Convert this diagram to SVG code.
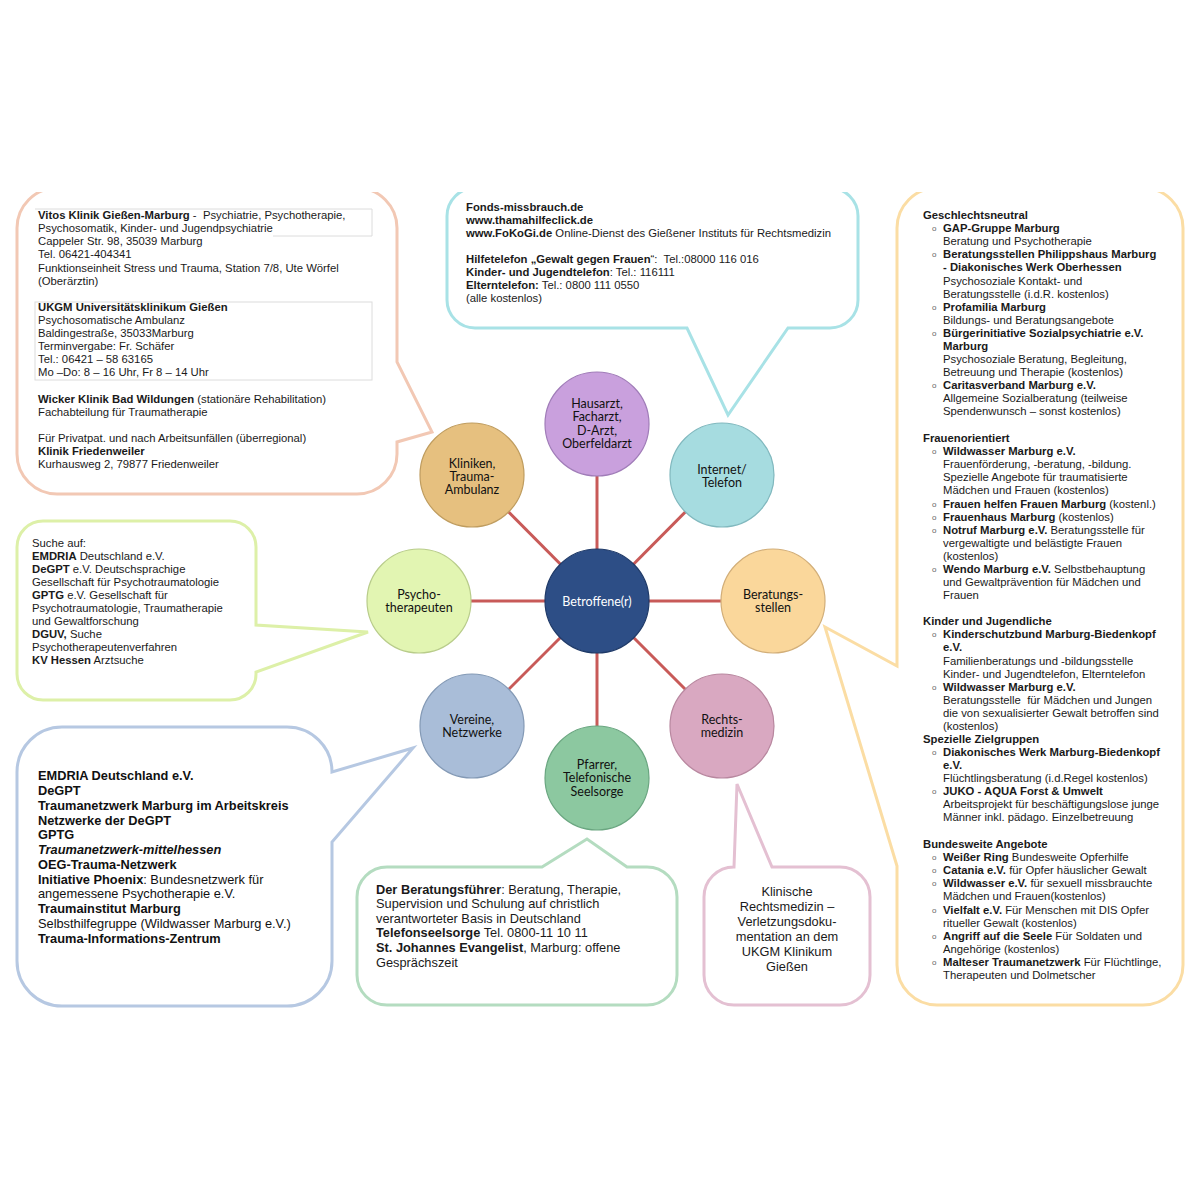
<svg xmlns="http://www.w3.org/2000/svg" width="1200" height="1200" viewBox="0 0 1200 1200">
<style>
.t{font-family:"Liberation Sans",Arial,sans-serif;font-size:11.3px;fill:#1a1a1a}
.m{font-family:"Liberation Sans",Arial,sans-serif;font-size:12.8px;fill:#1a1a1a}
.l{font-family:"Liberation Sans",Arial,sans-serif;font-size:12.8px;fill:#111}
.b{font-weight:bold}
.i{font-style:italic}
.bu{font-family:"Liberation Sans",Arial,sans-serif;font-size:8px;fill:#666}
.c{font-family:Lato,"Open Sans",sans-serif;font-size:12.5px;fill:#111;text-anchor:middle}
.call{fill:#fff;stroke-width:3;stroke-linejoin:miter}
.con{stroke:#C85A58;stroke-width:3}
.node{stroke-width:1.2}
.tab{fill:none;stroke:#dcdcdc;stroke-width:1}
</style>
<defs>
<clipPath id="clip"><rect x="0" y="192" width="1200" height="1008"/></clipPath>
</defs>
<rect width="1200" height="1200" fill="#fff"/>

<g id="callouts" clip-path="url(#clip)">
<path id="callout-kliniken" class="call" stroke="#F2C8B4" d="M57,188 H357 A40,40 0 0 1 397,228 V362 L432,432 L397,442 V454 A40,40 0 0 1 357,494 H57 A40,40 0 0 1 17,454 V228 A40,40 0 0 1 57,188 Z"/>
<path id="callout-internet" class="call" stroke="#A8E2E6" d="M475,188 H830 A28,28 0 0 1 858,216 V300 A28,28 0 0 1 830,328 H788 L728,415 L687,328 H475 A28,28 0 0 1 447,300 V216 A28,28 0 0 1 475,188 Z"/>
<path id="callout-beratung" class="call" stroke="#FBDDA4" d="M937,188 H1143 A40,40 0 0 1 1183,228 V965 A40,40 0 0 1 1143,1005 H937 A40,40 0 0 1 897,965 V866 L825,627 L897,666 V228 A40,40 0 0 1 937,188 Z"/>
<path id="callout-psycho" class="call" stroke="#DDF0A8" d="M43,521 H230 A26,26 0 0 1 256,547 V625 L368,632 L256,672 V674 A26,26 0 0 1 230,700 H43 A26,26 0 0 1 17,674 V547 A26,26 0 0 1 43,521 Z"/>
<path id="callout-vereine" class="call" stroke="#B6C8E2" d="M62,727 H287 A45,45 0 0 1 332,772 L413,748 L332,842 V961 A45,45 0 0 1 287,1006 H62 A45,45 0 0 1 17,961 V772 A45,45 0 0 1 62,727 Z"/>
<path id="callout-pfarrer" class="call" stroke="#B4DCC0" d="M387,867 H542 L587,839 L627,867 H647 A30,30 0 0 1 677,897 V975 A30,30 0 0 1 647,1005 H387 A30,30 0 0 1 357,975 V897 A30,30 0 0 1 387,867 Z"/>
<path id="callout-rechts" class="call" stroke="#E4C0D2" d="M734,867 L737,784 L772,867 H840 A30,30 0 0 1 870,897 V975 A30,30 0 0 1 840,1005 H734 A30,30 0 0 1 704,975 V897 A30,30 0 0 1 734,867 Z"/>
</g>

<g id="text-kliniken">
<path class="tab" d="M35,209 H372 V236 H273"/>
<rect class="tab" x="35" y="302" width="337" height="78"/>
<text class="t" x="38" y="219" xml:space="preserve"><tspan class="b">Vitos Klinik Gießen-Marburg</tspan> -  Psychiatrie, Psychotherapie,</text>
<text class="t" x="38" y="232">Psychosomatik, Kinder- und Jugendpsychiatrie</text>
<text class="t" x="38" y="245">Cappeler Str. 98, 35039 Marburg</text>
<text class="t" x="38" y="258">Tel. 06421-404341</text>
<text class="t" x="38" y="272">Funktionseinheit Stress und Trauma, Station 7/8, Ute Wörfel</text>
<text class="t" x="38" y="285">(Oberärztin)</text>
<text class="t b" x="38" y="311">UKGM Universitätsklinikum Gießen</text>
<text class="t" x="38" y="324">Psychosomatische Ambulanz</text>
<text class="t" x="38" y="337">Baldingestraße, 35033Marburg</text>
<text class="t" x="38" y="350">Terminvergabe: Fr. Schäfer</text>
<text class="t" x="38" y="363">Tel.: 06421 – 58 63165</text>
<text class="t" x="38" y="376">Mo –Do: 8 – 16 Uhr, Fr 8 – 14 Uhr</text>
<text class="t" x="38" y="403"><tspan class="b">Wicker Klinik Bad Wildungen</tspan> (stationäre Rehabilitation)</text>
<text class="t" x="38" y="416">Fachabteilung für Traumatherapie</text>
<text class="t" x="38" y="442">Für Privatpat. und nach Arbeitsunfällen (überregional)</text>
<text class="t b" x="38" y="455">Klinik Friedenweiler</text>
<text class="t" x="38" y="468">Kurhausweg 2, 79877 Friedenweiler</text>
</g>

<g id="text-internet">
<text class="t b" x="466" y="211">Fonds-missbrauch.de</text>
<text class="t b" x="466" y="224">www.thamahilfeclick.de</text>
<text class="t" x="466" y="237"><tspan class="b">www.FoKoGi.de</tspan> Online-Dienst des Gießener Instituts für Rechtsmedizin</text>
<text class="t" x="466" y="263" xml:space="preserve"><tspan class="b">Hilfetelefon „Gewalt gegen Frauen</tspan>“:  Tel.:08000 116 016</text>
<text class="t" x="466" y="276"><tspan class="b">Kinder- und Jugendtelefon</tspan>: Tel.: 116111</text>
<text class="t" x="466" y="289"><tspan class="b">Elterntelefon:</tspan> Tel.: 0800 111 0550</text>
<text class="t" x="466" y="302">(alle kostenlos)</text>
</g>

<g id="text-beratung">
<text class="t b" x="923" y="219">Geschlechtsneutral</text>
<text class="bu" x="932" y="231">o</text><text class="t b" x="943" y="232">GAP-Gruppe Marburg</text>
<text class="t" x="943" y="245">Beratung und Psychotherapie</text>
<text class="bu" x="932" y="257">o</text><text class="t b" x="943" y="258">Beratungsstellen Philippshaus Marburg</text>
<text class="t b" x="943" y="271">- Diakonisches Werk Oberhessen</text>
<text class="t" x="943" y="285">Psychosoziale Kontakt- und</text>
<text class="t" x="943" y="298">Beratungsstelle (i.d.R. kostenlos)</text>
<text class="bu" x="932" y="310">o</text><text class="t b" x="943" y="311">Profamilia Marburg</text>
<text class="t" x="943" y="324">Bildungs- und Beratungsangebote</text>
<text class="bu" x="932" y="336">o</text><text class="t b" x="943" y="337">Bürgerinitiative Sozialpsychiatrie e.V.</text>
<text class="t b" x="943" y="350">Marburg</text>
<text class="t" x="943" y="363">Psychosoziale Beratung, Begleitung,</text>
<text class="t" x="943" y="376">Betreuung und Therapie (kostenlos)</text>
<text class="bu" x="932" y="388">o</text><text class="t b" x="943" y="389">Caritasverband Marburg e.V.</text>
<text class="t" x="943" y="402">Allgemeine Sozialberatung (teilweise</text>
<text class="t" x="943" y="415">Spendenwunsch – sonst kostenlos)</text>
<text class="t b" x="923" y="442">Frauenorientiert</text>
<text class="bu" x="932" y="454">o</text><text class="t b" x="943" y="455">Wildwasser Marburg e.V.</text>
<text class="t" x="943" y="468">Frauenförderung, -beratung, -bildung.</text>
<text class="t" x="943" y="481">Spezielle Angebote für traumatisierte</text>
<text class="t" x="943" y="494">Mädchen und Frauen (kostenlos)</text>
<text class="bu" x="932" y="507">o</text><text class="t" x="943" y="508"><tspan class="b">Frauen helfen Frauen Marburg</tspan> (kostenl.)</text>
<text class="bu" x="932" y="520">o</text><text class="t" x="943" y="521"><tspan class="b">Frauenhaus Marburg</tspan> (kostenlos)</text>
<text class="bu" x="932" y="533">o</text><text class="t" x="943" y="534"><tspan class="b">Notruf Marburg e.V.</tspan> Beratungsstelle für</text>
<text class="t" x="943" y="547">vergewaltigte und belästigte Frauen</text>
<text class="t" x="943" y="560">(kostenlos)</text>
<text class="bu" x="932" y="572">o</text><text class="t" x="943" y="573"><tspan class="b">Wendo Marburg e.V.</tspan> Selbstbehauptung</text>
<text class="t" x="943" y="586">und Gewaltprävention für Mädchen und</text>
<text class="t" x="943" y="599">Frauen</text>
<text class="t b" x="923" y="625">Kinder und Jugendliche</text>
<text class="bu" x="932" y="637">o</text><text class="t b" x="943" y="638">Kinderschutzbund Marburg-Biedenkopf</text>
<text class="t b" x="943" y="651">e.V.</text>
<text class="t" x="943" y="665">Familienberatungs und -bildungsstelle</text>
<text class="t" x="943" y="678">Kinder- und Jugendtelefon, Elterntelefon</text>
<text class="bu" x="932" y="690">o</text><text class="t b" x="943" y="691">Wildwasser Marburg e.V.</text>
<text class="t" x="943" y="704" xml:space="preserve">Beratungsstelle  für Mädchen und Jungen</text>
<text class="t" x="943" y="717">die von sexualisierter Gewalt betroffen sind</text>
<text class="t" x="943" y="730">(kostenlos)</text>
<text class="t b" x="923" y="743">Spezielle Zielgruppen</text>
<text class="bu" x="932" y="755">o</text><text class="t b" x="943" y="756">Diakonisches Werk Marburg-Biedenkopf</text>
<text class="t b" x="943" y="769">e.V.</text>
<text class="t" x="943" y="782">Flüchtlingsberatung (i.d.Regel kostenlos)</text>
<text class="bu" x="932" y="794">o</text><text class="t b" x="943" y="795">JUKO - AQUA Forst &amp; Umwelt</text>
<text class="t" x="943" y="808">Arbeitsprojekt für beschäftigungslose junge</text>
<text class="t" x="943" y="821">Männer inkl. pädago. Einzelbetreuung</text>
<text class="t b" x="923" y="848">Bundesweite Angebote</text>
<text class="bu" x="932" y="860">o</text><text class="t" x="943" y="861"><tspan class="b">Weißer Ring</tspan> Bundesweite Opferhilfe</text>
<text class="bu" x="932" y="873">o</text><text class="t" x="943" y="874"><tspan class="b">Catania e.V.</tspan> für Opfer häuslicher Gewalt</text>
<text class="bu" x="932" y="886">o</text><text class="t" x="943" y="887"><tspan class="b">Wildwasser e.V.</tspan> für sexuell missbrauchte</text>
<text class="t" x="943" y="900">Mädchen und Frauen(kostenlos)</text>
<text class="bu" x="932" y="913">o</text><text class="t" x="943" y="914"><tspan class="b">Vielfalt e.V.</tspan> Für Menschen mit DIS Opfer</text>
<text class="t" x="943" y="927">ritueller Gewalt (kostenlos)</text>
<text class="bu" x="932" y="939">o</text><text class="t" x="943" y="940"><tspan class="b">Angriff auf die Seele</tspan> Für Soldaten und</text>
<text class="t" x="943" y="953">Angehörige (kostenlos)</text>
<text class="bu" x="932" y="965">o</text><text class="t" x="943" y="966"><tspan class="b">Malteser Traumanetzwerk</tspan> Für Flüchtlinge,</text>
<text class="t" x="943" y="979">Therapeuten und Dolmetscher</text>
</g>

<g id="text-psycho">
<text class="t" x="32" y="547">Suche auf:</text>
<text class="t" x="32" y="560"><tspan class="b">EMDRIA</tspan> Deutschland e.V.</text>
<text class="t" x="32" y="573"><tspan class="b">DeGPT</tspan> e.V. Deutschsprachige</text>
<text class="t" x="32" y="586">Gesellschaft für Psychotraumatologie</text>
<text class="t" x="32" y="599"><tspan class="b">GPTG</tspan> e.V. Gesellschaft für</text>
<text class="t" x="32" y="612">Psychotraumatologie, Traumatherapie</text>
<text class="t" x="32" y="625">und Gewaltforschung</text>
<text class="t" x="32" y="638"><tspan class="b">DGUV,</tspan> Suche</text>
<text class="t" x="32" y="651">Psychotherapeutenverfahren</text>
<text class="t" x="32" y="664"><tspan class="b">KV Hessen</tspan> Arztsuche</text>
</g>

<g id="text-vereine">
<text class="l b" x="38" y="779.5">EMDRIA Deutschland e.V.</text>
<text class="l b" x="38" y="794.5">DeGPT</text>
<text class="l b" x="38" y="809.5">Traumanetzwerk Marburg im Arbeitskreis</text>
<text class="l b" x="38" y="824.5">Netzwerke der DeGPT</text>
<text class="l b" x="38" y="838.5">GPTG</text>
<text class="l b i" x="38" y="853.5">Traumanetzwerk-mittelhessen</text>
<text class="l b" x="38" y="868.5">OEG-Trauma-Netzwerk</text>
<text class="l" x="38" y="883.5"><tspan class="b">Initiative Phoenix</tspan>: Bundesnetzwerk für</text>
<text class="l" x="38" y="897.5">angemessene Psychotherapie e.V.</text>
<text class="l b" x="38" y="912.5">Traumainstitut Marburg</text>
<text class="l" x="38" y="927.5">Selbsthilfegruppe (Wildwasser Marburg e.V.)</text>
<text class="l b" x="38" y="942.5">Trauma-Informations-Zentrum</text>
</g>

<g id="text-pfarrer">
<text class="m" x="376" y="894"><tspan class="b">Der Beratungsführer</tspan>: Beratung, Therapie,</text>
<text class="m" x="376" y="908">Supervision und Schulung auf christlich</text>
<text class="m" x="376" y="923">verantworteter Basis in Deutschland</text>
<text class="m" x="376" y="937"><tspan class="b">Telefonseelsorge</tspan> Tel. 0800-11 10 11</text>
<text class="m" x="376" y="952"><tspan class="b">St. Johannes Evangelist</tspan>, Marburg: offene</text>
<text class="m" x="376" y="967">Gesprächszeit</text>
</g>

<g id="text-rechts" text-anchor="middle">
<text class="m" x="787" y="896">Klinische</text>
<text class="m" x="787" y="911">Rechtsmedizin –</text>
<text class="m" x="787" y="926">Verletzungsdoku-</text>
<text class="m" x="787" y="941">mentation an dem</text>
<text class="m" x="787" y="956">UKGM Klinikum</text>
<text class="m" x="787" y="971">Gießen</text>
</g>

<g id="connectors">
<line class="con" x1="597" y1="601" x2="597" y2="424"/>
<line class="con" x1="597" y1="601" x2="722" y2="475"/>
<line class="con" x1="597" y1="601" x2="773" y2="601"/>
<line class="con" x1="597" y1="601" x2="722" y2="726"/>
<line class="con" x1="597" y1="601" x2="597" y2="778"/>
<line class="con" x1="597" y1="601" x2="472" y2="726"/>
<line class="con" x1="597" y1="601" x2="419" y2="601"/>
<line class="con" x1="597" y1="601" x2="472" y2="475"/>
</g>

<g id="node-center">
<circle class="node" cx="597" cy="601" r="52" fill="#2D4E86" stroke="#1F3A68"/>
<text class="c" x="597" y="605.5" style="fill:#fff">Betroffene(r)</text>
</g>
<g id="node-hausarzt">
<circle class="node" cx="597" cy="424" r="52" fill="#C9A0DD" stroke="#A07CB8"/>
<text class="c" x="597" y="407.5">Hausarzt,</text>
<text class="c" x="597" y="421">Facharzt,</text>
<text class="c" x="597" y="434.5">D-Arzt,</text>
<text class="c" x="597" y="448">Oberfeldarzt</text>
</g>
<g id="node-internet">
<circle class="node" cx="722" cy="475" r="52" fill="#A6DCE0" stroke="#80B8BE"/>
<text class="c" x="722" y="473.5">Internet/</text>
<text class="c" x="722" y="486.5">Telefon</text>
</g>
<g id="node-beratung">
<circle class="node" cx="773" cy="601" r="52" fill="#FAD79B" stroke="#D2AE78"/>
<text class="c" x="773" y="598.5">Beratungs-</text>
<text class="c" x="773" y="611.5">stellen</text>
</g>
<g id="node-rechts">
<circle class="node" cx="722" cy="726" r="52" fill="#D9A8C1" stroke="#B8879F"/>
<text class="c" x="722" y="723.5">Rechts-</text>
<text class="c" x="722" y="736.5">medizin</text>
</g>
<g id="node-pfarrer">
<circle class="node" cx="597" cy="778" r="52" fill="#8CC8A0" stroke="#6AA680"/>
<text class="c" x="597" y="768.5">Pfarrer,</text>
<text class="c" x="597" y="782">Telefonische</text>
<text class="c" x="597" y="796">Seelsorge</text>
</g>
<g id="node-vereine">
<circle class="node" cx="472" cy="726" r="52" fill="#A9BDD8" stroke="#8399B5"/>
<text class="c" x="472" y="723.5">Vereine,</text>
<text class="c" x="472" y="736.5">Netzwerke</text>
</g>
<g id="node-psycho">
<circle class="node" cx="419" cy="601" r="52" fill="#E2F5B2" stroke="#B8CC8A"/>
<text class="c" x="419" y="598.5">Psycho-</text>
<text class="c" x="419" y="611.5">therapeuten</text>
</g>
<g id="node-kliniken">
<circle class="node" cx="472" cy="475" r="52" fill="#E6C07F" stroke="#BF9C5E"/>
<text class="c" x="472" y="467.5">Kliniken,</text>
<text class="c" x="472" y="480.5">Trauma-</text>
<text class="c" x="472" y="493.5">Ambulanz</text>
</g>
</svg>
